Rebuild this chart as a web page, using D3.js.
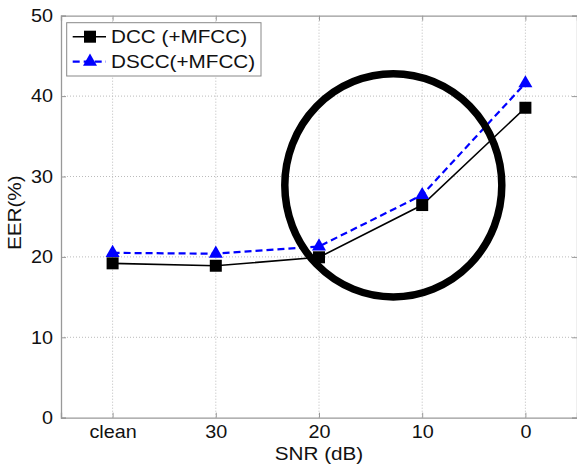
<!DOCTYPE html>
<html lang="en">
<head>
  <meta charset="UTF-8">
  <title>EER vs SNR</title>
  <style>
    html, body { margin: 0; background: #fff; }
    svg text { font-family: "Liberation Sans", Arial, sans-serif; fill: #111; }
  </style>
  <script src="https://cdn.jsdelivr.net/npm/d3@7"></script>
</head>
<body>
  <script>
    // data
    const categories = ['clean', '30', '20', '10', '0']
    const dcc = [19.2, 18.9, 19.95, 26.45, 38.55]
    const dscc = [20.5, 20.4, 21.3, 27.7, 41.6]
    const yTicks = [0, 10, 20, 30, 40, 50]
    const seriesNames = ['DCC (+MFCC)', 'DSCC(+MFCC)']
    // highlight ellipse: center between "20" and "10", value in EER units
    const ellipseAt = { from: '20', frac: 0.72, value: 28.9 }

    const width = 577
    const height = 469
    const margin = { left: 61, right: 0, top: 15.7, bottom: 51.3 }
    const sx = 1.15 // text in the original is a bit wider than Arial
    const tx = 1.1  // same for tick labels

    const svg = d3.select('body').append('svg')
      .attr('width', width)
      .attr('height', height)

    const x = d3.scalePoint()
      .domain(categories)
      .range([margin.left, width - margin.right])
      .padding(0.5)

    const y = d3.scaleLinear()
      .domain([0, 50])
      .range([height - margin.bottom, margin.top])

    const x0 = margin.left, x1 = width - margin.right
    const y0 = height - margin.bottom, y1 = margin.top

    // grid
    const grid = svg.append('g').attr('stroke', '#bbb').attr('stroke-dasharray', '1,2').attr('stroke-width', 1)
    grid.selectAll('.vg').data(categories).enter().append('line')
      .attr('x1', d => x(d)).attr('x2', d => x(d))
      .attr('y1', y0).attr('y2', y1)
    grid.selectAll('.hg').data(yTicks.slice(1, -1)).enter().append('line')
      .attr('x1', x0).attr('x2', x1)
      .attr('y1', d => y(d)).attr('y2', d => y(d))

    // axes
    const gx = svg.append('g')
      .attr('transform', `translate(0,${y0})`)
      .call(d3.axisBottom(x).tickSize(-5).tickPadding(8))
    const gy = svg.append('g')
      .attr('transform', `translate(${x0},0)`)
      .call(d3.axisLeft(y).tickValues(yTicks).tickSize(-5).tickPadding(8))
    const gt = svg.append('g')
      .attr('transform', `translate(0,${y1})`)
      .call(d3.axisTop(x).tickSize(-5).tickFormat(''))
    const gr = svg.append('g')
      .attr('transform', `translate(${x1},0)`)
      .call(d3.axisRight(y).tickValues(yTicks).tickSize(-5).tickFormat(''))

    ;[gx, gy, gt, gr].forEach(g => {
      g.select('.domain').attr('stroke', '#999').attr('stroke-width', 1.3)
      g.selectAll('.tick line').attr('stroke', '#999')
      g.selectAll('.tick text').attr('font-size', 18).attr('fill', '#111')
        .attr('font-family', '"Liberation Sans", Arial, sans-serif')
    })
    // widen tick labels a little
    gx.selectAll('.tick text').attr('transform', `scale(${tx},1)`)
    gy.selectAll('.tick text').attr('x', -8 / tx).attr('transform', `scale(${tx},1)`)

    // axis titles
    svg.append('text')
      .attr('transform', `translate(${(x0 + x1) / 2},459.5) scale(${sx},1)`)
      .attr('text-anchor', 'middle')
      .attr('font-size', 18)
      .text('SNR (dB)')
    svg.append('text')
      .attr('transform', `translate(21,${(y0 + y1) / 2 - 4}) rotate(-90) scale(${sx},1)`)
      .attr('text-anchor', 'middle')
      .attr('font-size', 18)
      .text('EER(%)')

    // lines
    const line = d3.line().x((d, i) => x(categories[i])).y(d => y(d))
    svg.append('path').datum(dcc)
      .attr('d', line).attr('fill', 'none')
      .attr('stroke', '#000').attr('stroke-width', 1.6)
    svg.append('path').datum(dscc)
      .attr('d', line).attr('fill', 'none')
      .attr('stroke', '#0000ff').attr('stroke-width', 2.2)
      .attr('stroke-dasharray', '7,4')

    const sq = 12
    const tri = d3.symbol().type(d3.symbolTriangle).size(85)

    svg.selectAll('.sq').data(dcc).enter().append('rect')
      .attr('x', (d, i) => x(categories[i]) - sq / 2)
      .attr('y', d => y(d) - sq / 2)
      .attr('width', sq).attr('height', sq)
      .attr('fill', '#000')
    svg.selectAll('.tri').data(dscc).enter().append('path')
      .attr('d', tri)
      .attr('transform', (d, i) => `translate(${x(categories[i])},${y(d)})`)
      .attr('fill', '#0000ff')

    // highlight ellipse
    const step = x.step()
    svg.append('ellipse')
      .attr('cx', x(ellipseAt.from) + ellipseAt.frac * step)
      .attr('cy', y(ellipseAt.value))
      .attr('rx', 108.5).attr('ry', 111.6)
      .attr('fill', 'none').attr('stroke', '#000').attr('stroke-width', 7.5)

    // legend
    const lg = svg.append('g').attr('transform', 'translate(66.7,22.7)')
    lg.append('rect').attr('width', 194.3).attr('height', 53.3)
      .attr('fill', '#fff').attr('stroke', '#888').attr('stroke-width', 1)
    const rows = lg.selectAll('.row').data(seriesNames).enter().append('g')
      .attr('transform', (d, i) => `translate(0,${14 + i * 25})`)
    rows.append('line')
      .attr('x1', 6).attr('x2', 39.3).attr('y1', 0).attr('y2', 0)
      .attr('stroke', (d, i) => i ? '#0000ff' : '#000')
      .attr('stroke-width', (d, i) => i ? 2.2 : 1.6)
      .attr('stroke-dasharray', (d, i) => i ? '7,4' : null)
    rows.filter((d, i) => i === 0).append('rect')
      .attr('x', 23.3 - sq / 2).attr('y', -sq / 2).attr('width', sq).attr('height', sq)
      .attr('fill', '#000')
    rows.filter((d, i) => i === 1).append('path')
      .attr('d', tri).attr('transform', 'translate(23.3,0)')
      .attr('fill', '#0000ff')
    rows.append('text')
      .attr('transform', `translate(44.3,6.6) scale(${sx},1)`)
      .attr('font-size', 18)
      .text(d => d)
  </script>
</body>
</html>
